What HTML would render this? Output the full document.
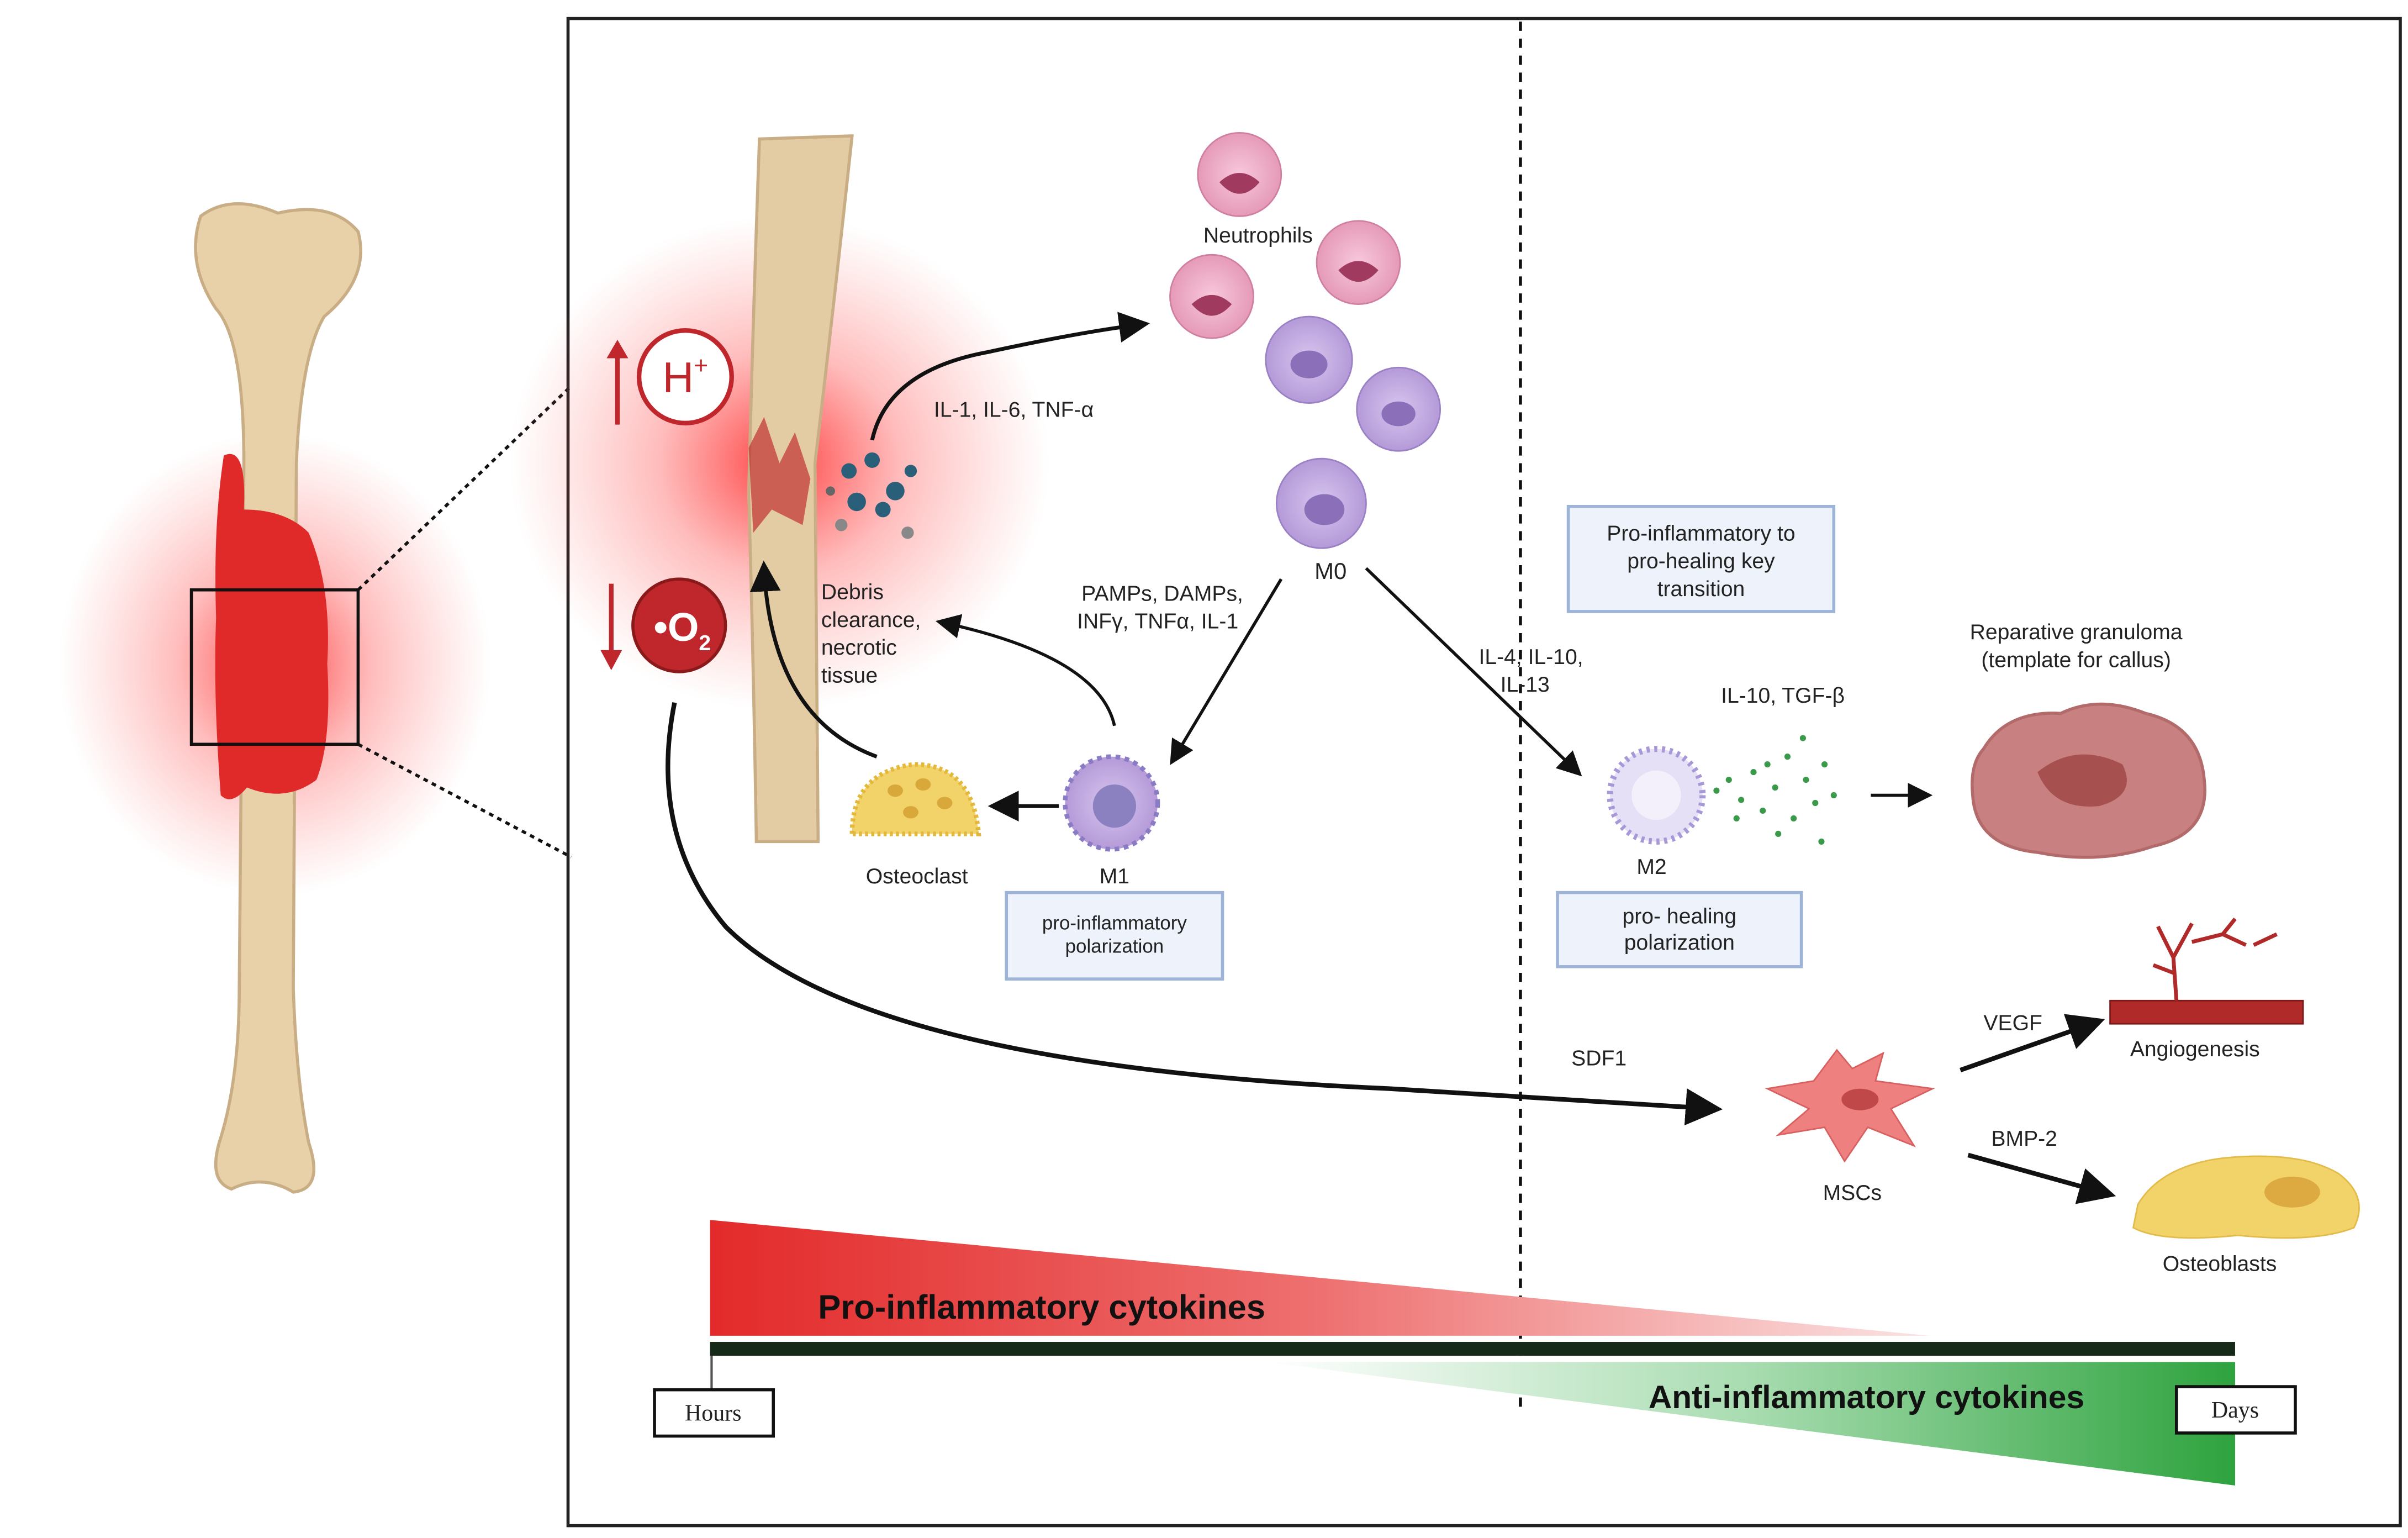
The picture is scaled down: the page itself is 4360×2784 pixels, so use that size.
<!DOCTYPE html>
<html><head><meta charset="utf-8"><style>
html,body{margin:0;padding:0;background:#fff}
svg{display:block}
text{font-family:"Liberation Sans",sans-serif;fill:#222}
</style></head><body>
<svg width="4360" height="2784" viewBox="0 0 1560 996" preserveAspectRatio="none" xmlns="http://www.w3.org/2000/svg">
<defs>
<radialGradient id="glow" cx="50%" cy="50%" r="50%">
<stop offset="0" stop-color="#ff2020" stop-opacity="0.85"/>
<stop offset="0.45" stop-color="#ff4040" stop-opacity="0.35"/>
<stop offset="1" stop-color="#ff6060" stop-opacity="0"/>
</radialGradient>
<linearGradient id="red" x1="0" x2="1" y1="0" y2="0">
<stop offset="0" stop-color="#e32a2a"/><stop offset="0.5" stop-color="#ee7070"/><stop offset="1" stop-color="#fbe3e3"/>
</linearGradient>
<linearGradient id="green" x1="0" x2="1" y1="0" y2="0">
<stop offset="0" stop-color="#ffffff"/><stop offset="0.5" stop-color="#a8dcb0"/><stop offset="1" stop-color="#2ea33e"/>
</linearGradient>
<radialGradient id="pink" cx="50%" cy="50%" r="50%"><stop offset="0" stop-color="#f8c8dc"/><stop offset="1" stop-color="#e59ab8"/></radialGradient>
<radialGradient id="purp" cx="50%" cy="50%" r="50%"><stop offset="0" stop-color="#d8c6ef"/><stop offset="1" stop-color="#b49ad8"/></radialGradient>
<marker id="ah" markerWidth="8" markerHeight="8" refX="6" refY="4" orient="auto" markerUnits="strokeWidth"><path d="M0,0 L8,4 L0,8 Z" fill="#111"/></marker>
</defs>

<!-- left bone -->
<ellipse cx="178" cy="430" rx="140" ry="150" fill="url(#glow)"/>
<path d="M130,140 Q150,125 180,138 Q215,130 232,150 Q240,180 210,205 Q195,230 192,300 L190,640 Q192,700 200,740 Q210,770 190,772 Q170,760 150,770 Q135,765 142,740 Q155,700 155,640 L158,300 Q158,220 140,200 Q120,170 130,140 Z" fill="#e8d0a8" stroke="#c9ae85" stroke-width="2"/>
<path d="M145,295 Q160,288 158,330 Q185,330 200,345 Q215,380 212,430 Q215,480 205,505 Q185,520 160,510 Q150,522 143,515 Q138,450 140,400 Q138,340 145,295 Z" fill="#e02a2a"/>
<rect x="124" y="382" width="108" height="100" fill="none" stroke="#111" stroke-width="2"/>
<line x1="232" y1="382" x2="370" y2="250" stroke="#111" stroke-width="2" stroke-dasharray="3,3"/>
<line x1="232" y1="482" x2="370" y2="555" stroke="#111" stroke-width="2" stroke-dasharray="3,3"/>

<!-- frame -->
<rect x="368" y="12" width="1187" height="976" fill="none" stroke="#222" stroke-width="2"/>
<line x1="985" y1="14" x2="985" y2="912" stroke="#111" stroke-width="2" stroke-dasharray="6,5"/>

<!-- zoomed bone -->
<ellipse cx="505" cy="300" rx="175" ry="160" fill="url(#glow)"/>
<path d="M492,90 L552,88 Q540,200 528,300 L530,545 L490,545 Q488,420 485,320 Q488,200 492,90 Z" fill="#e3cba3" stroke="#c9ae85" stroke-width="2"/>
<path d="M485,290 L495,270 L505,300 L515,280 L525,310 L520,340 L500,330 L488,345 Z" fill="#c03030" opacity="0.7"/>

<!-- H+ and O2 -->
<line x1="400" y1="275" x2="400" y2="228" stroke="#c0272d" stroke-width="3"/>
<path d="M393,232 L400,220 L407,232 Z" fill="#c0272d"/>
<circle cx="444" cy="244" r="30" fill="#fff" stroke="#c0272d" stroke-width="3"/>
<text x="444" y="254" font-size="28" text-anchor="middle" style="fill:#c0272d">H<tspan font-size="16" dy="-12">+</tspan></text>
<line x1="396" y1="378" x2="396" y2="425" stroke="#c0272d" stroke-width="3"/>
<path d="M389,421 L396,434 L403,421 Z" fill="#c0272d"/>
<circle cx="440" cy="405" r="30" fill="#c0272d" stroke="#8a1a1a" stroke-width="2"/>
<text x="442" y="415" font-size="26" text-anchor="middle" style="fill:#fff;font-weight:bold">•O<tspan font-size="14" dy="6">2</tspan></text>

<!-- debris -->
<g fill="#2a5f7a">
<circle cx="550" cy="305" r="5"/><circle cx="565" cy="298" r="5"/><circle cx="580" cy="318" r="6"/><circle cx="555" cy="325" r="6"/><circle cx="572" cy="330" r="5"/><circle cx="590" cy="305" r="4"/><circle cx="545" cy="340" r="4" fill="#888"/><circle cx="588" cy="345" r="4" fill="#888"/><circle cx="538" cy="318" r="3" fill="#666"/>
</g>
<text x="532" y="388" font-size="14">Debris</text>
<text x="532" y="406" font-size="14">clearance,</text>
<text x="532" y="424" font-size="14">necrotic</text>
<text x="532" y="442" font-size="14">tissue</text>

<!-- arrow debris to neutrophils -->
<path d="M565,285 Q575,240 640,228 Q700,215 740,210" fill="none" stroke="#111" stroke-width="2.5" marker-end="url(#ah)"/>
<text x="605" y="270" font-size="14">IL-1, IL-6, TNF-α</text>

<!-- neutrophils -->
<circle cx="803" cy="113" r="27" fill="url(#pink)" stroke="#d07fa0"/>
<circle cx="785" cy="192" r="27" fill="url(#pink)" stroke="#d07fa0"/>
<circle cx="880" cy="170" r="27" fill="url(#pink)" stroke="#d07fa0"/>
<g fill="#a03a5e"><path d="M790,118 q13,-12 26,0 q-13,15 -26,0z"/><path d="M772,197 q13,-12 26,0 q-13,15 -26,0z"/><path d="M867,175 q13,-12 26,0 q-13,15 -26,0z"/></g>
<text x="815" y="157" font-size="14" text-anchor="middle">Neutrophils</text>
<circle cx="848" cy="233" r="28" fill="url(#purp)" stroke="#9a80c4"/>
<circle cx="906" cy="265" r="27" fill="url(#purp)" stroke="#9a80c4"/>
<circle cx="856" cy="326" r="29" fill="url(#purp)" stroke="#9a80c4"/>
<g fill="#8b6fb8"><ellipse cx="848" cy="236" rx="12" ry="9"/><ellipse cx="906" cy="268" rx="11" ry="8"/><ellipse cx="858" cy="330" rx="13" ry="10"/></g>
<text x="862" y="375" font-size="15" text-anchor="middle">M0</text>

<!-- M0 to M1 -->
<line x1="830" y1="375" x2="760" y2="492" stroke="#111" stroke-width="2" marker-end="url(#ah)"/>
<text x="753" y="389" font-size="14" text-anchor="middle">PAMPs, DAMPs,</text>
<text x="750" y="407" font-size="14" text-anchor="middle">INFγ, TNFα, IL-1</text>
<!-- M1 -->
<circle cx="720" cy="520" r="30" fill="url(#purp)" stroke="#8a7cc4" stroke-width="3" stroke-dasharray="3,3"/>
<circle cx="722" cy="522" r="14" fill="#8b80c0"/>
<text x="722" y="572" font-size="14" text-anchor="middle">M1</text>
<rect x="652" y="578" width="140" height="56" fill="#eef3fb" stroke="#9db3d8" stroke-width="2"/>
<text x="722" y="602" font-size="12.5" text-anchor="middle">pro-inflammatory</text>
<text x="722" y="617" font-size="12.5" text-anchor="middle">polarization</text>
<path d="M722,470 Q712,425 610,403" fill="none" stroke="#111" stroke-width="2" marker-end="url(#ah)"/>
<line x1="686" y1="522" x2="645" y2="522" stroke="#111" stroke-width="2.5" marker-end="url(#ah)"/>
<!-- osteoclast -->
<path d="M552,540 Q552,500 592,495 Q630,495 634,540 Z" fill="#f2d36a" stroke="#e4b83a" stroke-width="3" stroke-dasharray="2,2"/>
<g fill="#d8a83a"><ellipse cx="580" cy="512" rx="5" ry="4"/><ellipse cx="598" cy="508" rx="5" ry="4"/><ellipse cx="612" cy="520" rx="5" ry="4"/><ellipse cx="590" cy="526" rx="5" ry="4"/></g>
<text x="594" y="572" font-size="14" text-anchor="middle">Osteoclast</text>
<path d="M568,490 Q500,465 495,368" fill="none" stroke="#111" stroke-width="2.5" marker-end="url(#ah)"/>

<!-- right side -->
<rect x="1016" y="328" width="172" height="68" fill="#eef3fb" stroke="#9db3d8" stroke-width="2"/>
<text x="1102" y="350" font-size="14" text-anchor="middle">Pro-inflammatory to</text>
<text x="1102" y="368" font-size="14" text-anchor="middle">pro-healing key</text>
<text x="1102" y="386" font-size="14" text-anchor="middle">transition</text>
<line x1="885" y1="368" x2="1022" y2="500" stroke="#111" stroke-width="2" marker-end="url(#ah)"/>
<text x="958" y="430" font-size="14">IL-4, IL-10,</text>
<text x="972" y="448" font-size="14">IL-13</text>
<circle cx="1073" cy="515" r="30" fill="#e6e0f6" stroke="#a898d8" stroke-width="4" stroke-dasharray="2,3"/>
<circle cx="1073" cy="515" r="16" fill="#f3effb"/>
<text x="1070" y="566" font-size="14" text-anchor="middle">M2</text>
<g fill="#3a9a4a">
<circle cx="1112" cy="512" r="2"/><circle cx="1120" cy="505" r="2"/><circle cx="1128" cy="518" r="2"/><circle cx="1136" cy="500" r="2"/><circle cx="1142" cy="525" r="2"/><circle cx="1150" cy="510" r="2"/><circle cx="1158" cy="490" r="2"/><circle cx="1162" cy="530" r="2"/><circle cx="1170" cy="505" r="2"/><circle cx="1176" cy="520" r="2"/><circle cx="1168" cy="478" r="2"/><circle cx="1182" cy="495" r="2"/><circle cx="1180" cy="545" r="2"/><circle cx="1152" cy="540" r="2"/><circle cx="1125" cy="530" r="2"/><circle cx="1145" cy="495" r="2"/><circle cx="1188" cy="515" r="2"/>
</g>
<text x="1155" y="455" font-size="14" text-anchor="middle">IL-10, TGF-β</text>
<rect x="1009" y="578" width="158" height="48" fill="#eef3fb" stroke="#9db3d8" stroke-width="2"/>
<text x="1088" y="598" font-size="14" text-anchor="middle">pro- healing</text>
<text x="1088" y="615" font-size="14" text-anchor="middle">polarization</text>
<line x1="1212" y1="515" x2="1248" y2="515" stroke="#111" stroke-width="2" marker-end="url(#ah)"/>
<text x="1345" y="414" font-size="14" text-anchor="middle">Reparative granuloma</text>
<text x="1345" y="432" font-size="14" text-anchor="middle">(template for callus)</text>
<path d="M1285,485 Q1300,460 1335,462 Q1360,450 1390,462 Q1425,470 1428,505 Q1432,540 1395,548 Q1360,560 1320,552 Q1280,548 1278,515 Q1276,495 1285,485 Z" fill="#c98080" stroke="#b26a6a" stroke-width="2"/>
<path d="M1320,500 Q1345,480 1375,495 Q1385,515 1360,522 Q1330,525 1320,500 Z" fill="#a65050"/>

<!-- SDF1 long arrow -->
<path d="M437,455 Q420,540 470,600 Q560,690 900,705 Q1020,712 1110,718" fill="none" stroke="#111" stroke-width="3" marker-end="url(#ah)"/>
<text x="1018" y="690" font-size="14">SDF1</text>
<!-- MSCs -->
<path d="M1145,705 L1175,700 L1190,680 L1200,692 L1220,682 L1215,700 L1252,705 L1225,718 L1240,742 L1210,730 L1195,752 L1182,730 L1152,735 L1172,718 Z" fill="#ee8080" stroke="#d86060"/>
<ellipse cx="1205" cy="712" rx="12" ry="7" fill="#c04848"/>
<text x="1200" y="777" font-size="14" text-anchor="middle">MSCs</text>
<line x1="1270" y1="693" x2="1358" y2="662" stroke="#111" stroke-width="3" marker-end="url(#ah)"/>
<text x="1285" y="667" font-size="14">VEGF</text>
<line x1="1275" y1="748" x2="1365" y2="773" stroke="#111" stroke-width="3" marker-end="url(#ah)"/>
<text x="1290" y="742" font-size="14">BMP-2</text>
<rect x="1367" y="648" width="125" height="15" fill="#b02a2a" stroke="#7a1a1a"/>
<path d="M1410,648 L1408,620 L1398,600 M1408,620 L1420,598 M1420,610 L1440,605 L1455,612 M1440,605 L1448,595 M1460,612 L1475,605 M1408,630 L1395,625" stroke="#b02a2a" stroke-width="2.5" fill="none"/>
<text x="1422" y="684" font-size="14" text-anchor="middle">Angiogenesis</text>
<path d="M1385,780 Q1400,755 1440,750 Q1490,745 1515,760 Q1535,775 1525,795 Q1500,805 1450,800 Q1400,805 1382,795 Z" fill="#f2d36a" stroke="#e2bb4a"/>
<ellipse cx="1485" cy="772" rx="18" ry="10" fill="#dcaa40"/>
<text x="1438" y="823" font-size="14" text-anchor="middle">Osteoblasts</text>

<!-- cytokine timeline -->
<path d="M460,790 L1250,865 L460,865 Z" fill="url(#red)"/>
<text x="530" y="854" font-size="22" font-weight="bold" style="fill:#111;font-weight:bold">Pro-inflammatory cytokines</text>
<rect x="460" y="869" width="988" height="9" fill="#152a18"/>
<line x1="461" y1="878" x2="461" y2="900" stroke="#555" stroke-width="1.5"/>
<path d="M820,882 L1448,882 L1448,962 Z" fill="url(#green)"/>
<text x="1068" y="912" font-size="21" style="fill:#111;font-weight:bold">Anti-inflammatory cytokines</text>
<rect x="424" y="900" width="77" height="30" fill="#fff" stroke="#111" stroke-width="2"/>
<text x="462" y="920" font-size="15" text-anchor="middle" style="font-family:'Liberation Serif',serif">Hours</text>
<rect x="1410" y="898" width="77" height="30" fill="#fff" stroke="#111" stroke-width="2"/>
<text x="1448" y="918" font-size="15" text-anchor="middle" style="font-family:'Liberation Serif',serif">Days</text>
</svg>
</body></html>
